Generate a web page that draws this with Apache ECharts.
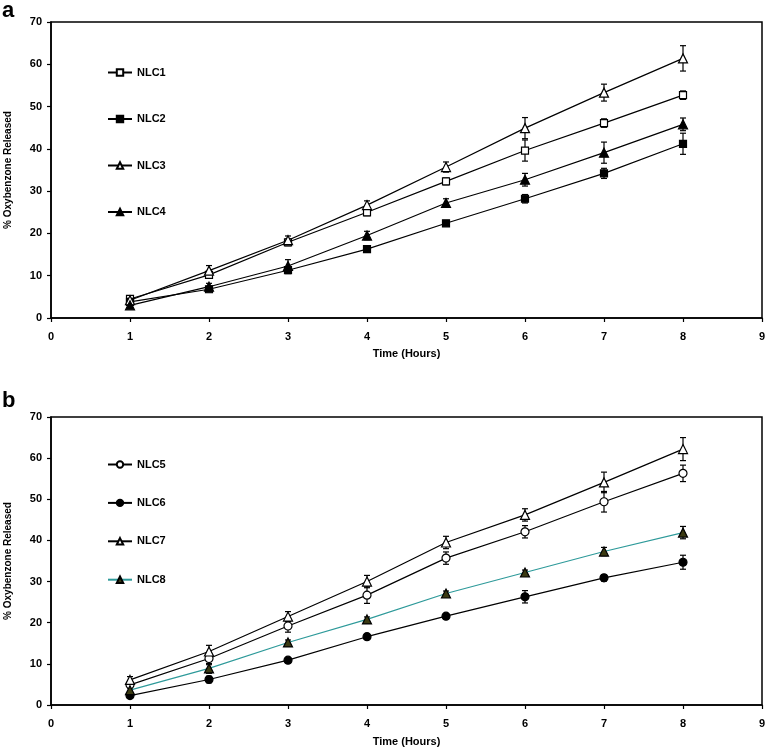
<!DOCTYPE html>
<html>
<head>
<meta charset="utf-8">
<script src="https://cdn.jsdelivr.net/npm/echarts@6/dist/echarts.min.js"></script>
<style>
html,body{margin:0;padding:0;background:#fff;}
#chart{width:767px;height:753px;}
</style>
</head>
<body>
<div id="chart"></div>
<script>
const hours = [1, 2, 3, 4, 5, 6, 7, 8];
const xTicks = [0, 1, 2, 3, 4, 5, 6, 7, 8, 9];
const yTicks = [0, 10, 20, 30, 40, 50, 60, 70];

// Panel a
const nlc1 = [4.5, 10.2, 17.9, 25.0, 32.3, 39.6, 46.1, 52.7];
const nlc1Err = [0.6, 0.8, 0.8, 0.8, 0.8, 2.5, 1.0, 1.0];
const nlc2 = [3.8, 6.8, 11.3, 16.3, 22.4, 28.2, 34.2, 41.2];
const nlc2Err = [0.5, 0.5, 0.8, 0.6, 0.6, 1.0, 1.2, 2.5];
const nlc3 = [4.2, 11.2, 18.4, 26.7, 35.7, 44.9, 53.3, 61.4];
const nlc3Err = [0.8, 1.2, 1.0, 1.0, 1.2, 2.5, 2.0, 3.0];
const nlc4 = [3.0, 7.4, 12.3, 19.5, 27.2, 32.7, 39.1, 45.8];
const nlc4Err = [0.5, 0.8, 1.5, 1.0, 1.0, 1.5, 2.5, 1.5];

// Panel b
const nlc5 = [4.9, 11.3, 19.2, 26.7, 35.7, 42.1, 49.4, 56.3];
const nlc5Err = [0.8, 1.5, 1.5, 2.0, 1.5, 1.5, 2.5, 2.0];
const nlc6 = [2.3, 6.2, 10.9, 16.6, 21.6, 26.3, 30.9, 34.7];
const nlc6Err = [0.6, 0.8, 0.6, 0.6, 0.6, 1.5, 0.8, 1.7];
const nlc7 = [6.1, 13.0, 21.5, 30.0, 39.5, 46.2, 54.1, 62.2];
const nlc7Err = [0.8, 1.5, 1.2, 1.5, 1.5, 1.5, 2.5, 2.8];
const nlc8 = [3.6, 8.9, 15.2, 20.8, 27.1, 32.2, 37.3, 41.9];
const nlc8Err = [0.8, 1.2, 0.6, 0.6, 0.6, 0.6, 1.0, 1.5];

const FONT = 'Liberation Sans, Arial, sans-serif';

function pairs(vals) { return hours.map((h, i) => [h, vals[i]]); }
function errData(vals, errs) { return hours.map((h, i) => [h, vals[i] - errs[i], vals[i] + errs[i]]); }

function errSeries(vals, errs, idx) {
  return {
    type: 'custom',
    xAxisIndex: idx, yAxisIndex: idx,
    z: 1,
    silent: true,
    data: errData(vals, errs),
    renderItem: function (params, api) {
      const x = api.value(0);
      const lo = api.coord([x, api.value(1)]);
      const hi = api.coord([x, api.value(2)]);
      const w = 3;
      const st = { stroke: '#000', lineWidth: 1.2 };
      return {
        type: 'group',
        children: [
          { type: 'line', shape: { x1: lo[0], y1: lo[1], x2: hi[0], y2: hi[1] }, style: st },
          { type: 'line', shape: { x1: lo[0] - w, y1: lo[1], x2: lo[0] + w, y2: lo[1] }, style: st },
          { type: 'line', shape: { x1: hi[0] - w, y1: hi[1], x2: hi[0] + w, y2: hi[1] }, style: st }
        ]
      };
    }
  };
}

function lineSeries(name, vals, idx, symbol, fill, lineColor, size) {
  return {
    name: name,
    type: 'line',
    xAxisIndex: idx, yAxisIndex: idx,
    z: 3,
    data: pairs(vals),
    symbol: symbol,
    symbolSize: size,
    showSymbol: true,
    lineStyle: { color: lineColor, width: 1.2 },
    itemStyle: { color: fill, borderColor: '#000', borderWidth: 1.2 },
    emphasis: { disabled: true },
    animation: false
  };
}

function xAxis(idx) {
  return {
    type: 'value', gridIndex: idx, min: 0, max: 9, interval: 1,
    name: 'Time (Hours)', nameLocation: 'middle', nameGap: idx === 0 ? 30 : 31,
    nameTextStyle: { color: '#000', fontWeight: 'bold', fontSize: 11, fontFamily: FONT },
    axisLine: { onZero: false, lineStyle: { color: '#000', width: 1.5 } },
    axisTick: { show: true, inside: false, length: 4, lineStyle: { color: '#000', width: 1.2 } },
    axisLabel: { color: '#000', fontWeight: 'bold', fontSize: 11, fontFamily: FONT, margin: 13 },
    splitLine: { show: false }
  };
}
function yAxis(idx) {
  return {
    type: 'value', gridIndex: idx, min: 0, max: 70, interval: 10,
    name: '% Oxybenzone Released', nameLocation: 'middle', nameGap: 38, nameRotate: 90,
    nameTextStyle: { color: '#000', fontWeight: 'bold', fontSize: 10, fontFamily: FONT },
    axisLine: { lineStyle: { color: '#000', width: 1.5 } },
    axisTick: { show: true, inside: false, length: 4, lineStyle: { color: '#000', width: 1.2 } },
    axisLabel: { color: '#000', fontWeight: 'bold', fontSize: 11, fontFamily: FONT, margin: 9 },
    splitLine: { show: false }
  };
}

const legendText = { color: '#000', fontWeight: 'bold', fontSize: 11, fontFamily: FONT };

const option = {
  backgroundColor: '#fff',
  animation: false,
  grid: [
    { left: 51, top: 22, right: 5, height: 296, show: true, borderColor: '#000', borderWidth: 1.5, containLabel: false, outerBoundsMode: 'none' },
    { left: 51, top: 417, right: 5, height: 288, show: true, borderColor: '#000', borderWidth: 1.5, containLabel: false, outerBoundsMode: 'none' }
  ],
  xAxis: [xAxis(0), xAxis(1)],
  yAxis: [yAxis(0), yAxis(1)],
  legend: [
    {
      data: ['NLC1', 'NLC2', 'NLC3', 'NLC4'],
      orient: 'vertical', left: 102, top: 62,
      itemWidth: 24, itemHeight: 8, itemGap: 35.5,
      textStyle: legendText, selectedMode: false
    },
    {
      data: ['NLC5', 'NLC6', 'NLC7', 'NLC8'],
      orient: 'vertical', left: 102, top: 454,
      itemWidth: 24, itemHeight: 8, itemGap: 27.4,
      textStyle: legendText, selectedMode: false
    }
  ],
  graphic: [
    { type: 'text', left: 2, top: 0, style: { text: 'a', fontSize: 22, fontWeight: 'bold', fontFamily: FONT, fill: '#000' } },
    { type: 'text', left: 2, top: 390, style: { text: 'b', fontSize: 22, fontWeight: 'bold', fontFamily: FONT, fill: '#000' } }
  ],
  series: [
    errSeries(nlc1, nlc1Err, 0),
    errSeries(nlc2, nlc2Err, 0),
    errSeries(nlc3, nlc3Err, 0),
    errSeries(nlc4, nlc4Err, 0),
    lineSeries('NLC1', nlc1, 0, 'rect', '#fff', '#000', 7),
    lineSeries('NLC2', nlc2, 0, 'rect', '#000', '#000', 7),
    lineSeries('NLC3', nlc3, 0, 'triangle', '#fff', '#000', 9),
    lineSeries('NLC4', nlc4, 0, 'triangle', '#000', '#000', 9),
    errSeries(nlc5, nlc5Err, 1),
    errSeries(nlc6, nlc6Err, 1),
    errSeries(nlc7, nlc7Err, 1),
    errSeries(nlc8, nlc8Err, 1),
    lineSeries('NLC5', nlc5, 1, 'circle', '#fff', '#000', 8),
    lineSeries('NLC6', nlc6, 1, 'circle', '#000', '#000', 8),
    lineSeries('NLC7', nlc7, 1, 'triangle', '#fff', '#000', 9),
    lineSeries('NLC8', nlc8, 1, 'triangle', '#3b3a12', '#2e9a9a', 9)
  ]
};

const chart = echarts.init(document.getElementById('chart'), null, { renderer: 'canvas' });
chart.setOption(option);
</script>
</body>
</html>
